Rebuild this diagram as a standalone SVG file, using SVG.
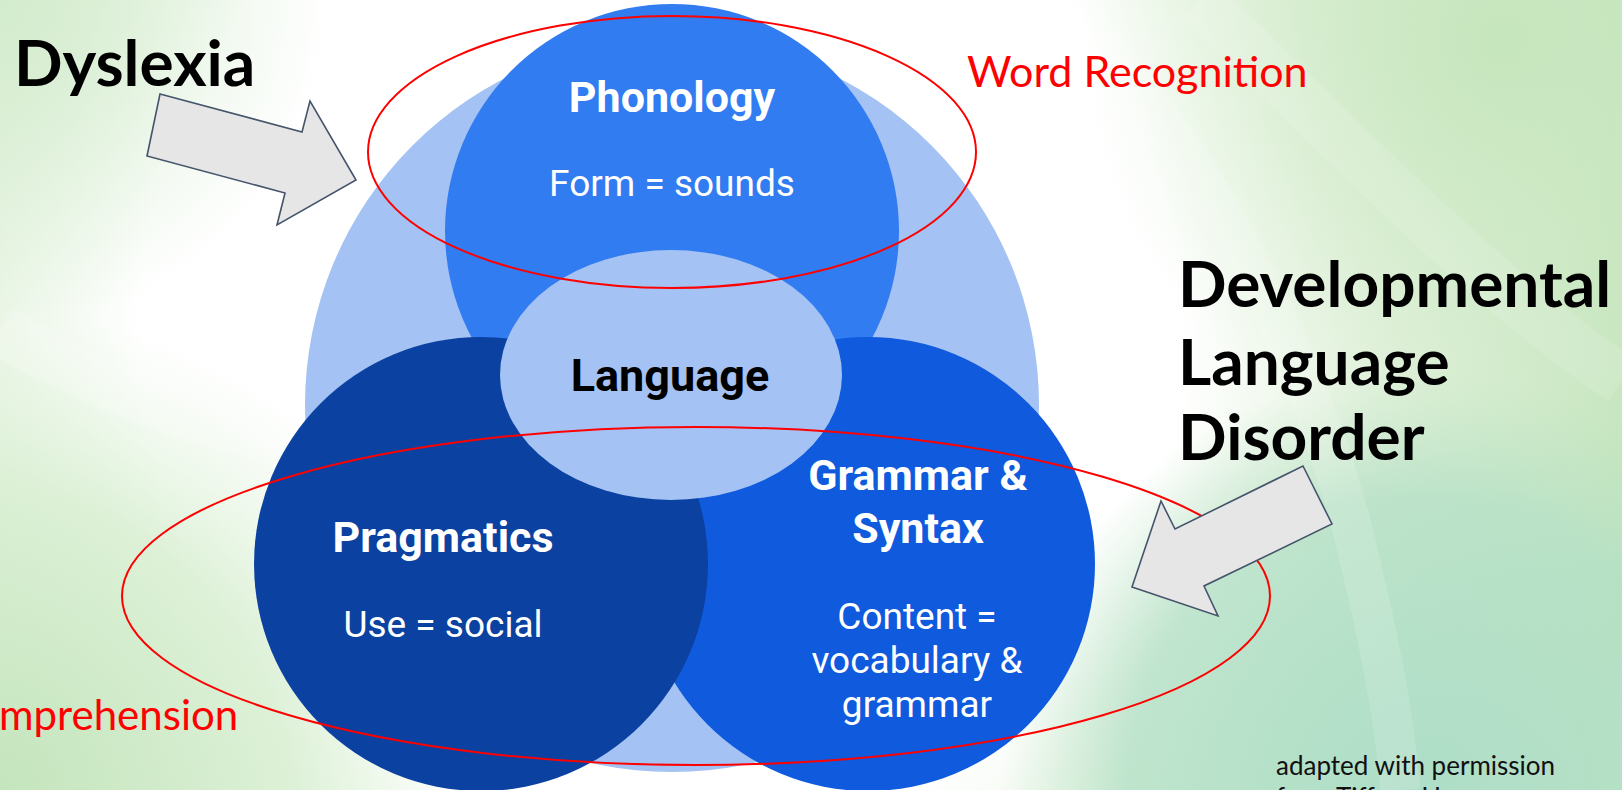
<svg xmlns="http://www.w3.org/2000/svg" width="1622" height="790" viewBox="0 0 1622 790">
  <defs>
    <radialGradient id="bgMain" cx="660" cy="330" r="1000" gradientUnits="userSpaceOnUse">
      <stop offset="0" stop-color="#ffffff"/>
      <stop offset="0.52" stop-color="#ffffff"/>
      <stop offset="0.72" stop-color="#e3f2dd"/>
      <stop offset="1" stop-color="#c2e4bb"/>
    </radialGradient>
    <radialGradient id="bgTL" cx="0" cy="0" r="330" gradientUnits="userSpaceOnUse">
      <stop offset="0" stop-color="#d4ecce"/>
      <stop offset="1" stop-color="#d4ecce" stop-opacity="0"/>
    </radialGradient>
    <radialGradient id="bgBL" cx="0" cy="790" r="480" gradientUnits="userSpaceOnUse">
      <stop offset="0" stop-color="#c4e5bd"/>
      <stop offset="0.6" stop-color="#d6eecf" stop-opacity="0.8"/>
      <stop offset="1" stop-color="#e0f2da" stop-opacity="0"/>
    </radialGradient>
    <radialGradient id="bgBR" cx="1420" cy="790" r="420" gradientUnits="userSpaceOnUse">
      <stop offset="0" stop-color="#aedec8"/>
      <stop offset="0.7" stop-color="#b4e0c6" stop-opacity="0.8"/>
      <stop offset="1" stop-color="#bfe4c4" stop-opacity="0"/>
    </radialGradient>
    <radialGradient id="bgTR" cx="1500" cy="40" r="420" gradientUnits="userSpaceOnUse">
      <stop offset="0" stop-color="#c6e6bd"/>
      <stop offset="1" stop-color="#d2ebc9" stop-opacity="0"/>
    </radialGradient>
    <style>
      .light { fill: #a4c2f4; }
      .phon { fill: #327cf1; }
      .prag { fill: #0b41a0; }
      .gram { fill: #0f5add; }
      .ring { fill: none; stroke: #ff0000; stroke-width: 2; }
      .arrow { fill: #e6e6e6; stroke: #44546a; stroke-width: 1.6; stroke-linejoin: miter; }
      .hd { font-family: Roboto, "Liberation Sans", Arial, sans-serif; font-weight: bold; font-size: 43px; text-anchor: middle; }
      .sub { font-family: Roboto, "Liberation Sans", Arial, sans-serif; font-size: 37px; fill: #ffffff; text-anchor: middle; }
      .white { fill: #ffffff; }
      .black { fill: #000000; }
      .big { font-family: Lato, "Liberation Sans", Arial, sans-serif; font-weight: bold; font-size: 64px; fill: #000000; }
      .red { font-family: Lato, "Liberation Sans", Arial, sans-serif; font-size: 42px; fill: #ff0000; }
      .credit { font-family: Lato, "Liberation Sans", Arial, sans-serif; font-size: 26px; fill: #111111; }
    </style>
  </defs>

  <g id="background">
    <rect x="0" y="0" width="1622" height="790" fill="url(#bgMain)"/>
    <rect x="0" y="0" width="1622" height="790" fill="url(#bgTR)"/>
    <rect x="0" y="0" width="1622" height="790" fill="url(#bgTL)"/>
    <rect x="0" y="0" width="1622" height="790" fill="url(#bgBL)"/>
    <rect x="0" y="0" width="1622" height="790" fill="url(#bgBR)"/>
    <path d="M1060,0 C1180,120 1290,300 1350,520 C1380,640 1395,720 1400,790" fill="none" stroke="#ffffff" stroke-opacity="0.14" stroke-width="40"/>
    <path d="M1200,0 C1350,150 1500,300 1622,380" fill="none" stroke="#ffffff" stroke-opacity="0.12" stroke-width="50"/>
    <path d="M0,330 C150,420 320,460 520,470" fill="none" stroke="#ffffff" stroke-opacity="0.2" stroke-width="50"/>
  </g>

  <g id="outer-circle">
    <circle class="light" cx="672" cy="405" r="367"/>
  </g>

  <g id="phonology">
    <circle class="phon" cx="672" cy="231" r="227"/>
    <text class="hd white" x="672" y="112">Phonology</text>
    <text class="sub" x="672" y="196">Form = sounds</text>
  </g>

  <g id="grammar-syntax">
    <circle class="gram" cx="868" cy="564" r="227"/>
  </g>

  <g id="pragmatics">
    <circle class="prag" cx="481" cy="564" r="227"/>
    <text class="hd white" x="443" y="552">Pragmatics</text>
    <text class="sub" x="443" y="637">Use = social</text>
  </g>

  <g id="grammar-syntax-text">
    <text class="hd white" x="918" y="490">Grammar &amp;</text>
    <text class="hd white" x="918" y="543">Syntax</text>
    <text class="sub" x="917" y="629">Content =</text>
    <text class="sub" x="917" y="673">vocabulary &amp;</text>
    <text class="sub" x="917" y="717">grammar</text>
  </g>

  <g id="language">
    <ellipse class="light" cx="671" cy="375" rx="171" ry="125"/>
    <text class="hd black" x="670" y="391" style="font-size:45px">Language</text>
  </g>

  <g id="connectors">
    <ellipse id="word-recognition-ring" class="ring" cx="672" cy="152" rx="304" ry="136"/>
    <ellipse id="comprehension-ring" class="ring" cx="696" cy="596" rx="574" ry="169"/>
    <polygon id="dyslexia-arrow" class="arrow" points="160,94 302,132 310,101 356,180 277,225 285,193 147,156"/>
    <polygon id="dld-arrow" class="arrow" points="1303,466 1332,524 1204,586 1218,616 1132,587 1161,501 1175,529"/>
  </g>

  <g id="dyslexia-label">
    <text class="big" x="14" y="86">Dyslexia</text>
  </g>

  <g id="dld-label">
    <text class="big" x="1178" y="307">Developmental</text>
    <text class="big" x="1178" y="385">Language</text>
    <text class="big" x="1178" y="460">Disorder</text>
  </g>

  <g id="word-recognition-label">
    <text class="red" x="967" y="87" style="font-size:43px">Word Recognition</text>
  </g>

  <g id="comprehension-label">
    <text class="red" x="-1" y="730">mprehension</text>
  </g>

  <g id="credit">
    <text class="credit" x="1276" y="775">adapted with permission</text>
    <text class="credit" x="1276" y="807">from Tiffany Hogan</text>
  </g>
</svg>
